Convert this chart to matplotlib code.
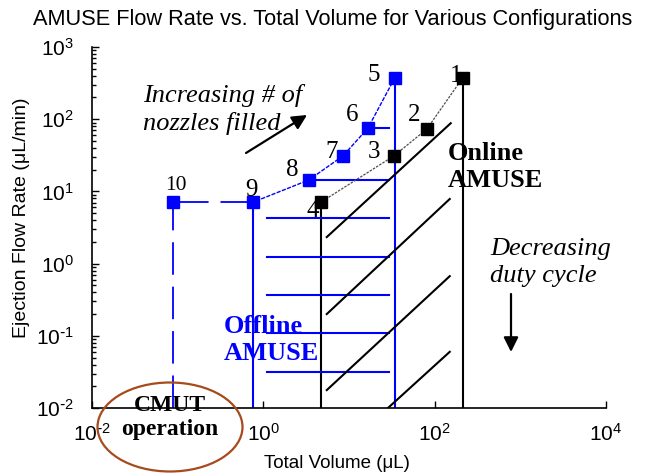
#!/usr/bin/env python3
"""
AMUSE flow rate vs. total volume, log-log, with configuration labels.
"""

import numpy as np
import matplotlib
matplotlib.use("Agg")
import matplotlib.pyplot as plt
from matplotlib.patches import Ellipse
from matplotlib.ticker import LogLocator, NullLocator, FuncFormatter

# --- data ---
# offline AMUSE configurations (blue), labels 5..9
offline_labels = ["5", "6", "7", "8", "9"]
offline_vol = [34.3, 16.6, 8.5, 3.4, 0.76]
offline_rate = [375, 75, 31, 14.4, 7.1]

# online AMUSE configurations (black), labels 1..4
online_labels = ["1", "2", "3", "4"]
online_vol = [213, 81, 33.4, 4.7]
online_rate = [375, 73, 31, 7.1]

# CMUT operation point, label 10
cmut_label = "10"
cmut_vol = 0.088
cmut_rate = 7.1

# duty-cycle levels drawn as blue horizontals in the offline region
duty_levels = [4.3, 1.24, 0.37, 0.11, 0.032]
duty_vol_range = [1.1, 29.2]

# hatch lines of the online region: (vol0, rate0, vol1, rate1)
hatch_lines = [
    (154, 88, 5.5, 2.33),
    (150, 7.85, 5.5, 0.2),
    (150, 0.67, 5.5, 0.0177),
    (150, 0.06, 28.5, 0.01),
]

# label offsets in points
offline_offsets = [(-15, -6), (-11, 1.6), (-8, -5), (-12, -1), (-1, 1)]
online_offsets = [(-5, -6.4), (-9, 2), (-14, -5), (-6, -14)]
cmut_offset = (2, 5)

W, H = 654, 475


def px(x, y):
    return (x / W, 1 - y / H)


def pow10(v, pos):
    e = int(round(np.log10(v)))
    if e < 0:
        return r'$\mathdefault{10^{\text{-}%d}}$' % (-e)
    return r'$\mathdefault{10^{%d}}$' % e


def main():
    plt.rcParams['font.family'] = ['Liberation Sans', 'DejaVu Sans']
    plt.rcParams['axes.unicode_minus'] = False
    fig = plt.figure(figsize=(W / 100, H / 100), dpi=100)
    ax = fig.add_axes([92 / W, 67 / H, 514 / W, 361 / H])
    ax.set_xscale('log')
    ax.set_yscale('log')
    ax.set_xlim(1e-2, 1e4)
    ax.set_ylim(1e-2, 1e3)

    blue = '#0000ff'
    dash = (0, (18, 6.6))
    ylo = ax.get_ylim()[0]

    # verticals down to the axis
    ax.plot([cmut_vol, cmut_vol], [ylo, cmut_rate], color=blue, lw=1.3, ls=dash)
    ax.plot([offline_vol[-1]] * 2, [ylo, offline_rate[-1]], color=blue, lw=1.5)
    ax.plot([offline_vol[0]] * 2, [ylo, offline_rate[0]], color=blue, lw=1.5)
    ax.plot([online_vol[-1]] * 2, [ylo, online_rate[-1]], color='k', lw=1.5)
    ax.plot([online_vol[0]] * 2, [ylo, online_rate[0]], color='k', lw=1.5)

    # duty-cycle horizontals
    for lvl in duty_levels:
        ax.plot(duty_vol_range, [lvl, lvl], color=blue, lw=1.5)
    for i in (1, 3):
        ax.plot([offline_vol[i], duty_vol_range[1]], [offline_rate[i]] * 2,
                color=blue, lw=1.5)

    # hatch lines
    for x0, y0, x1, y1 in hatch_lines:
        ax.plot([x0, x1], [y0, y1], color='k', lw=1.5)

    # series
    ax.plot([offline_vol[-1], cmut_vol], [offline_rate[-1], cmut_rate],
            color=blue, lw=1.3, ls=dash)
    ax.plot(offline_vol, offline_rate, color=blue, lw=1.0, ls=(0, (3, 1)),
            marker='s', ms=8.5, mfc=blue, mec=blue, zorder=4)
    ax.plot([cmut_vol], [cmut_rate], ls='none', marker='s', ms=8.5,
            mfc=blue, mec=blue, zorder=4)
    ax.plot(online_vol, online_rate, color='0.3', lw=0.9, ls=(0, (2, 1)),
            marker='s', ms=8, mfc='k', mec='k', zorder=4)

    # point labels
    serif = ['Liberation Serif', 'DejaVu Serif']
    for lab, x, y, off in zip(offline_labels, offline_vol, offline_rate, offline_offsets):
        ax.annotate(lab, (x, y), xytext=off, textcoords='offset points',
                    ha='center', va='bottom', fontsize=18, family=serif, zorder=5)
    for lab, x, y, off in zip(online_labels, online_vol, online_rate, online_offsets):
        ax.annotate(lab, (x, y), xytext=off, textcoords='offset points',
                    ha='center', va='bottom', fontsize=18, family=serif, zorder=5)
    ax.annotate(cmut_label, (cmut_vol, cmut_rate), xytext=cmut_offset,
                textcoords='offset points', ha='center', va='bottom',
                fontsize=15.5, family=serif)

    # axes style
    for s in ('top', 'right'):
        ax.spines[s].set_visible(False)
    ax.spines['left'].set_linewidth(1.2)
    ax.spines['bottom'].set_linewidth(1.2)
    ax.set_xticks([1e-2, 1e0, 1e2, 1e4])
    ax.xaxis.set_minor_locator(NullLocator())
    ax.yaxis.set_major_locator(LogLocator(base=10, numticks=10))
    ax.yaxis.set_minor_locator(LogLocator(base=10, subs=range(2, 10), numticks=10))
    ax.xaxis.set_major_formatter(FuncFormatter(pow10))
    ax.yaxis.set_major_formatter(FuncFormatter(pow10))
    ax.tick_params(which='both', direction='in', top=False, right=False,
                   labelsize=15, width=1)
    ax.tick_params(which='major', length=5)
    ax.tick_params(which='minor', length=3)
    ax.tick_params(axis='y', pad=13)
    ax.tick_params(axis='x', pad=11)

    fig.text(*px(333, 20), 'AMUSE Flow Rate vs. Total Volume for Various Configurations',
             ha='center', va='center', fontsize=15.7)
    fig.text(*px(337, 463), 'Total Volume (\u03bcL)', ha='center', va='center',
             fontsize=13.5)
    fig.text(*px(22, 218), 'Ejection Flow Rate (\u03bcL/min)', ha='center',
             va='center', rotation=90, fontsize=14)

    # annotations (va='baseline' pins the last line's baseline)
    fig.text(*px(143, 130), 'Increasing # of\nnozzles filled', ha='left',
             va='baseline', fontsize=19, style='italic', family=serif,
             linespacing=1.3)
    fig.text(*px(490, 282), 'Decreasing\nduty cycle', ha='left',
             va='baseline', fontsize=19, style='italic', family=serif,
             linespacing=1.3)
    fig.text(*px(448, 187), 'Online\nAMUSE', ha='left', va='baseline',
             fontsize=19, weight='bold', family=serif, linespacing=1.2)
    fig.text(*px(224, 360), 'Offline\nAMUSE', ha='left', va='baseline',
             fontsize=19, weight='bold', family=serif, color=blue,
             linespacing=1.2)
    fig.text(*px(170, 435), 'CMUT\noperation', ha='center', va='baseline',
             fontsize=17, weight='bold', family=serif, linespacing=1.2)

    arrow = dict(arrowstyle='-|>', lw=1.6, color='k', mutation_scale=22,
                 shrinkA=0, shrinkB=0)
    ax.annotate('', xy=px(307, 115), xytext=px(246, 153),
                xycoords='figure fraction', textcoords='figure fraction',
                arrowprops=arrow)
    ax.annotate('', xy=px(511, 352), xytext=px(511, 294),
                xycoords='figure fraction', textcoords='figure fraction',
                arrowprops=arrow)

    fig.patches.append(Ellipse(px(170, 427), 145 / W, 89 / H,
                               transform=fig.transFigure, fill=False,
                               edgecolor='#a64b1c', lw=1.6))

    fig.savefig('out.png', dpi=100)


if __name__ == "__main__":
    main()
